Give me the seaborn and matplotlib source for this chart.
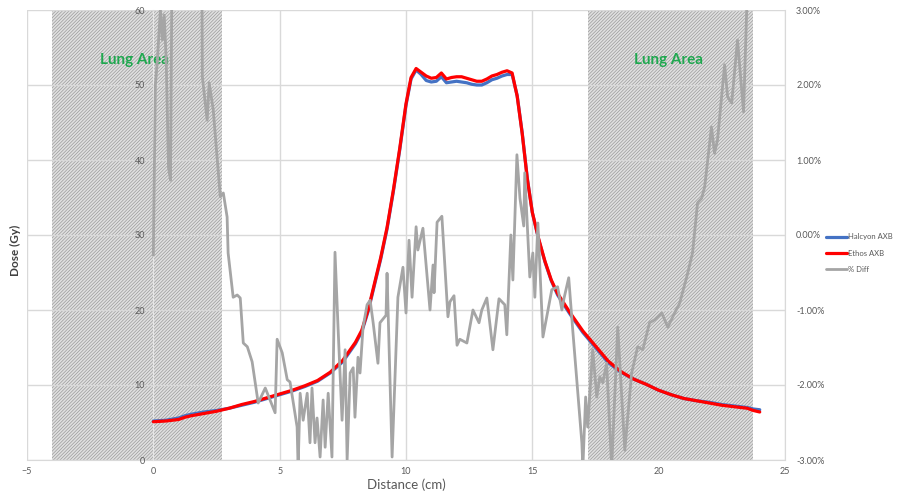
import numpy as np
import pandas as pd
import seaborn as sns
import matplotlib
matplotlib.use("Agg")
import matplotlib.pyplot as plt
from matplotlib.ticker import FuncFormatter

# dose profiles (cm, Gy)
dist = [0, 0.5, 1.0, 1.25, 1.5, 2.0, 2.5, 3.0, 3.5, 4.0, 4.5, 5.0, 5.5, 6.0, 6.5,
        7.0, 7.5, 8.0, 8.25, 8.5, 8.75, 9.0, 9.25, 9.5, 9.75, 10.0, 10.2, 10.4,
        10.6, 10.8, 11.0, 11.2, 11.4, 11.6, 11.8, 12.0, 12.2, 12.4, 12.6, 12.8,
        13.0, 13.2, 13.4, 13.6, 13.8, 14.0, 14.2, 14.4, 14.6, 14.8, 15.0, 15.25,
        15.5, 15.75, 16.0, 16.5, 17.0, 17.5, 18.0, 18.5, 19.0, 19.5, 20.0, 20.5,
        21.0, 21.5, 22.0, 22.5, 23.0, 23.5, 23.75, 24.0]
ethos = [5.1, 5.2, 5.4, 5.7, 5.9, 6.2, 6.5, 6.9, 7.4, 7.8, 8.3, 8.8, 9.3, 9.9, 10.6,
         11.7, 13.3, 15.7, 17.3, 20.0, 23.5, 27.0, 31.0, 36.0, 41.5, 47.5, 51.0, 52.2,
         51.7, 51.2, 50.9, 51.0, 51.6, 50.8, 51.0, 51.1, 51.1, 50.9, 50.7, 50.5,
         50.5, 50.8, 51.2, 51.4, 51.7, 51.9, 51.6, 48.5, 43.5, 37.5, 33.0, 29.5,
         26.5, 24.0, 22.2, 19.6, 17.2, 15.2, 13.2, 11.8, 10.8, 10.1, 9.3, 8.7,
         8.2, 7.9, 7.6, 7.3, 7.1, 6.9, 6.6, 6.4]
halcyon = [5.2, 5.3, 5.6, 5.9, 6.1, 6.4, 6.6, 6.9, 7.3, 7.7, 8.2, 8.7, 9.2, 9.8, 10.5,
           11.6, 13.1, 15.5, 17.1, 19.8, 23.3, 26.8, 30.8, 35.8, 41.3, 47.3, 50.8, 52.0,
           51.4, 50.6, 50.4, 50.5, 51.1, 50.3, 50.4, 50.5, 50.4, 50.3, 50.1, 50.0,
           50.0, 50.3, 50.7, 50.9, 51.2, 51.4, 51.4, 48.6, 43.6, 37.6, 33.0, 29.4,
           26.4, 23.9, 22.0, 19.4, 17.0, 15.0, 13.0, 11.7, 10.8, 10.1, 9.3, 8.7,
           8.2, 7.9, 7.7, 7.4, 7.2, 7.0, 6.8, 6.7]

# percent difference (secondary axis)
diff_x = [0.0, 0.08, 0.16, 0.28, 0.36, 0.43, 0.51, 0.6, 0.68, 0.74, 1.92, 1.94,
          2.13, 2.21, 2.37, 2.65, 2.77, 2.92, 2.96, 3.16, 3.32, 3.44, 3.56, 3.72,
          3.91, 4.15, 4.43, 4.82, 4.9, 5.1, 5.3, 5.41, 5.69, 5.73, 5.81, 5.93,
          6.09, 6.2, 6.28, 6.4, 6.48, 6.6, 6.72, 6.8, 6.92, 7.07, 7.19, 7.31,
          7.47, 7.59, 7.67, 7.79, 7.91, 7.98, 8.1, 8.18, 8.3, 8.46, 8.58, 8.7,
          8.89, 8.97, 9.21, 9.25, 9.45, 9.68, 9.88, 10.0, 10.12, 10.24, 10.4,
          10.47, 10.67, 10.95, 11.07, 11.11, 11.23, 11.42, 11.66, 11.74, 11.9,
          12.02, 12.13, 12.41, 12.65, 12.89, 13.0, 13.2, 13.44, 13.68, 13.91,
          13.99, 14.15, 14.23, 14.39, 14.51, 14.66, 14.7, 14.9, 15.02, 15.1,
          15.22, 15.42, 15.77, 16.0, 16.17, 16.25, 16.44, 16.6, 16.96, 17.0,
          17.11, 17.19, 17.39, 17.55, 17.67, 17.79, 17.94, 18.14, 18.38, 18.66,
          18.93, 19.17, 19.37, 19.64, 19.84, 20.12, 20.36, 20.63, 20.83, 21.11,
          21.34, 21.54, 21.7, 21.82, 22.09, 22.21, 22.33, 22.61, 22.73, 22.89,
          23.12, 23.36, 23.48, 23.55]
diff_pct = [-0.27, 2.0, 2.33, 3.0, 2.6, 2.93, 2.33, 0.9, 0.73, 3.6, 3.6, 2.11,
            1.53, 2.03, 1.67, 0.51, 0.56, 0.24, -0.24, -0.83, -0.8, -0.84, -1.44, -1.49,
            -1.69, -2.24, -2.04, -2.37, -1.39, -1.57, -1.93, -1.96, -2.56, -3.1, -2.11, -2.47,
            -2.11, -2.77, -2.04, -2.77, -2.44, -2.96, -2.2, -2.83, -2.11, -2.96, -0.23, -1.23,
            -2.47, -1.53, -3.0, -1.84, -1.77, -2.43, -1.63, -1.84, -1.23, -0.93, -0.87, -1.17,
            -1.71, -1.17, -1.07, -0.51, -2.96, -0.83, -0.43, -1.04, -0.07, -0.83, 0.11,
            -0.2, 0.09, -1.0, -0.4, -0.77, 0.17, 0.25, -1.09, -0.89, -0.81,
            -1.47, -1.39, -1.44, -1.0, -1.17, -1.0, -0.84, -1.53, -0.85, -0.93,
            -1.33, 0.0, -0.6, 1.07, 0.49, 0.12, 0.83, -0.56, -0.24, -0.83,
            0.16, -1.36, -0.73, -0.69, -1.0, -0.85, -0.57, -1.27, -2.77, -3.1,
            -2.16, -2.56, -1.53, -2.16, -1.89, -1.97, -1.71, -3.1, -1.23, -2.87,
            -1.84, -1.49, -1.53, -1.17, -1.13, -1.04, -1.23, -1.04, -0.91, -0.56,
            -0.24, 0.43, 0.49, 0.64, 1.44, 1.09, 1.27, 2.27, 1.84, 1.76,
            2.6, 1.64, 3.0, 3.6]

lung_left = (-4, 2.7)
lung_right = (17.2, 23.75)

dose_df = pd.DataFrame({"dist": dist, "Halcyon AXB": halcyon, "Ethos AXB": ethos})
diff_df = pd.DataFrame({"dist": diff_x, "pct": diff_pct})

sns.set_style("white")
plt.rcParams["font.family"] = ["Lato", "DejaVu Sans"]
plt.rcParams["hatch.linewidth"] = 0.5

fig = plt.figure(figsize=(9.05, 5.0), dpi=100)
ax = fig.add_axes([27 / 905, 40 / 500, 758 / 905, 450 / 500])

grid_c = "#d9d9d9"
txt_c = "#595959"

for lo, hi in (lung_left, lung_right):
    ax.axvspan(lo, hi, facecolor="#e0e0e0", edgecolor="#9a9a9a", hatch="//////////",
               linewidth=0, zorder=1)

sns.lineplot(data=dose_df, x="dist", y="Halcyon AXB", ax=ax, color="#4472C4",
             linewidth=2.3, sort=False, estimator=None, label="Halcyon AXB", zorder=6)
sns.lineplot(data=dose_df, x="dist", y="Ethos AXB", ax=ax, color="#FF0000",
             linewidth=2.3, sort=False, estimator=None, label="Ethos AXB", zorder=7)

ax.set_xlim(-5, 25)
ax.set_ylim(0, 60)
ax.set_xticks(range(-5, 26, 5))
ax.set_yticks(range(0, 61, 10))
ax.grid(True, color=grid_c, linewidth=1)
ax.set_axisbelow(True)
# y axis (labels + horizontal grid) sits over the hatched areas, like the original
ax.yaxis.set_zorder(5)
for s in ("top", "right"):
    ax.spines[s].set_visible(False)
ax.spines["left"].set_position(("data", 0))
ax.spines["left"].set_color("#e6e6e6")
ax.spines["left"].set_zorder(5)
ax.spines["bottom"].set_color(grid_c)
ax.tick_params(axis="both", length=0, labelsize=6.5, labelcolor=txt_c)
ax.tick_params(axis="x", pad=5)
ax.tick_params(axis="y", pad=6)
ax.set_xlabel("Distance (cm)", fontsize=9.5, color=txt_c, labelpad=2)
ax.set_ylabel("")
fig.text(0.017, 0.5, "Dose (Gy)", rotation=90, va="center", ha="center",
         fontsize=8.5, color="#404040", fontweight="bold")

for xc in (np.mean(lung_left), np.mean(lung_right)):
    ax.text(xc - 0.1, 53.3, "Lung Area", color="#1FA84F", fontsize=11, fontweight="bold",
            ha="center", va="center", zorder=8)

ax2 = ax.twinx()
sns.lineplot(data=diff_df, x="dist", y="pct", ax=ax2, color="#A5A5A5",
             linewidth=2.0, sort=False, estimator=None, label="% Diff")
ax2.set_ylim(-3, 3)
ax2.set_yticks(np.arange(-3, 3.01, 1))
ax2.yaxis.set_major_formatter(FuncFormatter(lambda v, p: f"{v:.2f}%"))
ax2.set_ylabel("")
for s in ("top", "left", "bottom"):
    ax2.spines[s].set_visible(False)
ax2.spines["right"].set_color(grid_c)
ax2.tick_params(axis="y", length=0, labelsize=6.5, labelcolor=txt_c, pad=8)

h1, l1 = ax.get_legend_handles_labels()
h2, l2 = ax2.get_legend_handles_labels()
ax.get_legend().remove()
ax2.get_legend().remove()
leg = fig.legend(h1 + h2, l1 + l2, loc="center left", bbox_to_anchor=(0.905, 0.494),
                 frameon=False, fontsize=5.5, handlelength=2.8, handletextpad=0.1,
                 labelspacing=1.2)
for t in leg.get_texts():
    t.set_color(txt_c)

fig.savefig("out.png", dpi=100)
